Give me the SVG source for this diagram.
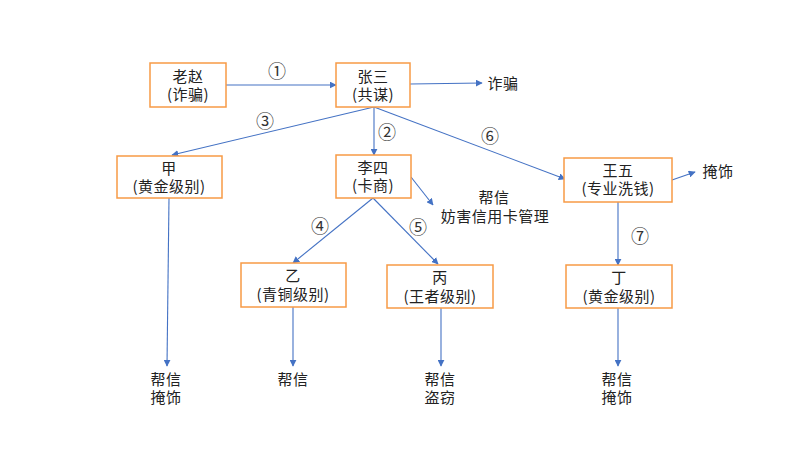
<svg xmlns="http://www.w3.org/2000/svg" width="800" height="453" viewBox="0 0 800 453">
<defs>
<marker id="ah" viewBox="0 0 10 10" refX="9" refY="5" markerWidth="7" markerHeight="7" markerUnits="userSpaceOnUse" orient="auto">
<path d="M0,0 L10,5 L0,10 z" fill="#4472C4"/>
</marker>
<style>
.box{fill:#fff;stroke:#F79A46;stroke-width:1.5}
.t{font-family:"Noto Sans CJK SC","Liberation Sans",sans-serif;font-size:15px;letter-spacing:0.5px;fill:#222;text-anchor:middle}
.c{fill:none;stroke:#4472C4;stroke-width:1.1;marker-end:url(#ah)}
.n{font-family:"Noto Sans CJK SC","DejaVu Sans",sans-serif;font-size:18px;fill:#333;text-anchor:middle}
</style>
</defs>
<rect width="800" height="453" fill="#fff"/>
<g id="connectors">
<line class="c" x1="226" y1="85" x2="336" y2="85"/>
<line class="c" x1="410" y1="84" x2="482" y2="83"/>
<line class="c" x1="374" y1="107" x2="172" y2="155"/>
<line class="c" x1="374" y1="107" x2="374" y2="155"/>
<line class="c" x1="374" y1="107" x2="565" y2="179"/>
<line class="c" x1="672" y1="180" x2="695" y2="172"/>
<line class="c" x1="618" y1="202" x2="618" y2="265"/>
<line class="c" x1="411" y1="177" x2="433" y2="205"/>
<line class="c" x1="373" y1="198" x2="293" y2="263"/>
<line class="c" x1="373" y1="198" x2="438" y2="264"/>
<line class="c" x1="169" y1="198" x2="167" y2="366"/>
<line class="c" x1="293" y1="307" x2="293" y2="366"/>
<line class="c" x1="441" y1="308" x2="441" y2="366"/>
<line class="c" x1="618" y1="308" x2="618" y2="366"/>
</g>
<g id="labels">
<text class="n" x="277" y="78">①</text>
<text class="n" x="387" y="139">②</text>
<text class="n" x="265" y="128">③</text>
<text class="n" x="320" y="233">④</text>
<text class="n" x="418" y="234">⑤</text>
<text class="n" x="490" y="143">⑥</text>
<text class="n" x="640" y="243">⑦</text>
</g>
<g id="laozhao">
<rect class="box" x="150" y="63" width="76" height="44"/>
<text class="t" x="188" y="82">老赵</text>
<text class="t" x="188" y="100">(诈骗)</text>
</g>
<g id="zhangsan">
<rect class="box" x="336" y="63" width="74" height="44"/>
<text class="t" x="373" y="82">张三</text>
<text class="t" x="373" y="100">(共谋)</text>
</g>
<g id="zhapian"><text class="t" x="503" y="89">诈骗</text></g>
<g id="jia">
<rect class="box" x="117" y="156" width="105" height="42"/>
<text class="t" x="169" y="174">甲</text>
<text class="t" x="169" y="192">(黄金级别)</text>
</g>
<g id="lisi">
<rect class="box" x="336" y="155" width="75" height="43"/>
<text class="t" x="373" y="173">李四</text>
<text class="t" x="373" y="191">(卡商)</text>
</g>
<g id="wangwu">
<rect class="box" x="564" y="158" width="108" height="44"/>
<text class="t" x="618" y="176">王五</text>
<text class="t" x="618" y="194">(专业洗钱)</text>
</g>
<g id="yanshi1"><text class="t" x="718" y="177">掩饰</text></g>
<g id="bangxin-lisi">
<text class="t" x="494" y="203">帮信</text>
<text class="t" x="495" y="222">妨害信用卡管理</text>
</g>
<g id="yi">
<rect class="box" x="241" y="263" width="105" height="44"/>
<text class="t" x="293" y="281">乙</text>
<text class="t" x="293" y="300">(青铜级别)</text>
</g>
<g id="bing">
<rect class="box" x="387" y="265" width="106" height="43"/>
<text class="t" x="440" y="283">丙</text>
<text class="t" x="440" y="302">(王者级别)</text>
</g>
<g id="ding">
<rect class="box" x="566" y="265" width="106" height="43"/>
<text class="t" x="619" y="283">丁</text>
<text class="t" x="619" y="302">(黄金级别)</text>
</g>
<g id="out-jia">
<text class="t" x="166" y="385">帮信</text>
<text class="t" x="166" y="403">掩饰</text>
</g>
<g id="out-yi"><text class="t" x="293" y="385">帮信</text></g>
<g id="out-bing">
<text class="t" x="440" y="385">帮信</text>
<text class="t" x="440" y="403">盗窃</text>
</g>
<g id="out-ding">
<text class="t" x="617" y="385">帮信</text>
<text class="t" x="617" y="403">掩饰</text>
</g>
</svg>
